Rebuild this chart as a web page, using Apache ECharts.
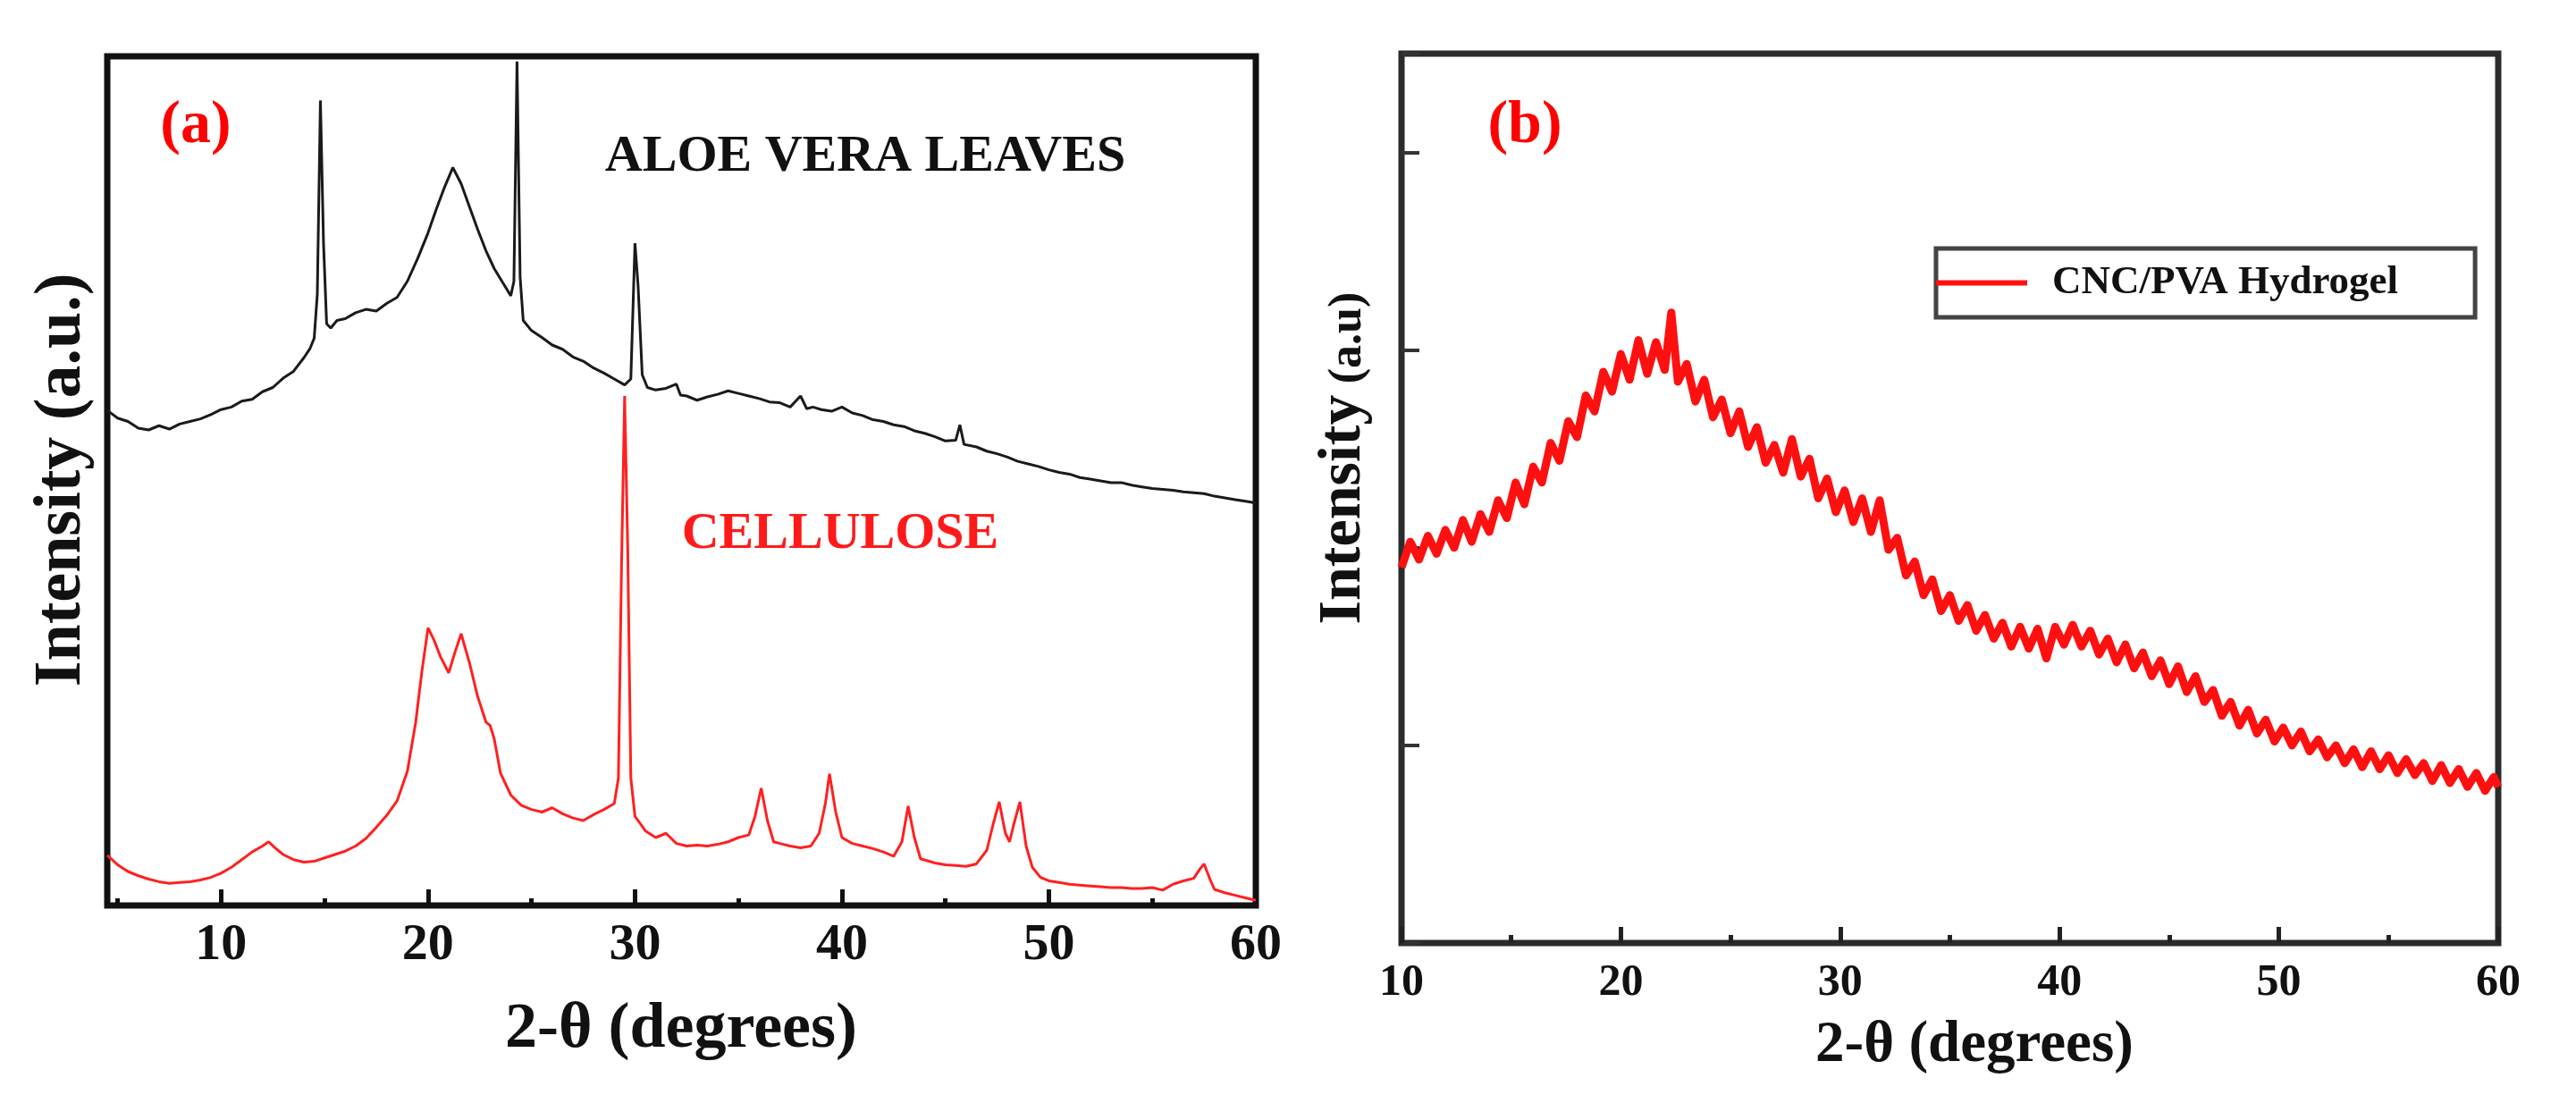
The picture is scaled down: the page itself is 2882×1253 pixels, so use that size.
<!DOCTYPE html>
<html>
<head>
<meta charset="utf-8">
<script src="https://cdn.jsdelivr.net/npm/echarts@6/dist/echarts.min.js"></script>
<style>
html,body{margin:0;padding:0;background:#fff;}
#chart{width:2882px;height:1253px;}
</style>
</head>
<body>
<div id="chart"></div>
<script>
// ---- Panel (a): XRD scans, intensity in arbitrary units (0-100 of plot height) ----
const aloeScan = [[4.5,58.3],[5.0,57.4],[5.5,57.0],[6.0,56.2],[6.5,56.0],[7.0,56.5],[7.5,56.1],[8.0,56.7],[8.5,57.0],[9.0,57.3],[9.5,57.8],[10.0,58.4],[10.5,58.7],[11.0,59.4],[11.5,59.6],[12.0,60.5],[12.5,61.0],[13.0,62.1],[13.5,62.9],[14.0,64.5],[14.3,65.6],[14.5,66.8],[14.65,72],[14.8,94.8],[14.95,78],[15.1,68.5],[15.3,68.0],[15.6,68.9],[16.0,69.1],[16.5,69.8],[17.0,70.2],[17.5,70.0],[18.0,70.9],[18.5,71.6],[19.0,73.5],[19.5,76.2],[20.0,79.2],[20.4,82.0],[20.8,84.6],[21.2,86.9],[21.6,85.0],[22.0,82.3],[22.4,79.6],[22.8,77.1],[23.2,75.0],[23.6,73.4],[24.0,71.8],[24.15,73.5],[24.3,99.4],[24.45,74],[24.6,68.9],[25.0,67.7],[25.5,66.9],[26.0,66.0],[26.5,65.5],[27.0,64.6],[27.5,64.1],[28.0,63.3],[28.5,62.7],[29.0,62.0],[29.5,61.3],[29.8,62.0],[30.0,78.0],[30.15,73.0],[30.35,62.5],[30.6,61.0],[31.0,60.7],[31.5,60.9],[32.0,61.4],[32.2,60.1],[32.5,60.0],[33.0,59.5],[33.5,59.9],[34.0,60.2],[34.5,60.6],[35.0,60.3],[35.5,60.0],[36.0,59.7],[36.5,59.3],[37.0,59.2],[37.5,58.7],[38.0,60.0],[38.3,58.5],[38.6,58.7],[39.0,58.4],[39.5,58.2],[40.0,58.7],[40.5,58.0],[41.0,57.7],[41.5,57.2],[42.0,57.0],[42.5,56.6],[43.0,56.4],[43.5,55.9],[44.0,55.6],[44.5,55.2],[45.0,54.7],[45.5,54.8],[45.7,56.6],[45.9,54.3],[46.5,54.0],[47.0,53.5],[47.5,53.2],[48.0,52.8],[48.5,52.3],[49.0,52.0],[49.5,51.7],[50.0,51.3],[50.5,51.0],[51.0,50.8],[51.5,50.4],[52.0,50.2],[52.5,50.0],[53.0,49.8],[53.5,49.8],[54.0,49.5],[54.5,49.3],[55.0,49.1],[55.5,49.0],[56.0,48.9],[56.5,48.7],[57.0,48.6],[57.5,48.5],[58.0,48.2],[58.5,48.0],[59.0,47.8],[59.5,47.6],[60.0,47.4]];

const celluloseScan = [[4.5,5.9],[5.0,4.8],[5.5,4.0],[6.0,3.5],[6.5,3.1],[7.0,2.8],[7.5,2.6],[8.0,2.7],[8.5,2.8],[9.0,3.0],[9.5,3.3],[10.0,3.8],[10.5,4.5],[11.0,5.4],[11.5,6.3],[12.0,7.0],[12.3,7.5],[12.6,6.8],[13.0,6.0],[13.5,5.4],[14.0,5.1],[14.5,5.2],[15.0,5.6],[15.5,6.0],[16.0,6.4],[16.5,7.0],[17.0,7.9],[17.5,9.2],[18.0,10.6],[18.5,12.3],[19.0,15.8],[19.4,21.5],[19.7,27.5],[20.0,32.7],[20.3,31.2],[20.6,29.3],[21.0,27.4],[21.3,29.8],[21.6,32.0],[22.0,28.6],[22.4,24.6],[22.8,21.6],[23.0,21.2],[23.2,19.6],[23.5,15.6],[24.0,13.0],[24.5,11.8],[25.0,11.3],[25.5,11.0],[26.0,11.5],[26.5,10.8],[27.0,10.3],[27.5,10.0],[28.0,10.7],[28.5,11.3],[29.0,12.0],[29.2,15.0],[29.35,40.0],[29.5,60.0],[29.65,42.0],[29.8,15.0],[30.0,10.5],[30.5,8.8],[31.0,8.0],[31.5,8.5],[32.0,7.3],[32.5,7.0],[33.0,7.1],[33.5,7.0],[34.0,7.2],[34.5,7.5],[35.0,8.0],[35.5,8.3],[35.8,10.5],[36.1,13.8],[36.4,10.0],[36.7,7.5],[37.0,7.3],[37.5,7.0],[38.0,6.8],[38.5,7.0],[38.9,8.5],[39.2,12.0],[39.4,15.5],[39.7,11.0],[40.0,8.0],[40.5,7.3],[41.0,7.0],[41.5,6.7],[42.0,6.3],[42.5,5.8],[42.9,7.5],[43.2,11.7],[43.5,8.0],[43.8,5.5],[44.5,5.0],[45.0,4.8],[45.5,4.7],[46.0,4.6],[46.5,4.9],[47.0,6.5],[47.3,9.5],[47.6,12.2],[47.9,8.5],[48.1,7.5],[48.3,9.5],[48.6,12.2],[48.9,7.0],[49.2,4.5],[49.6,3.3],[50.0,2.9],[50.5,2.7],[51.0,2.5],[51.5,2.4],[52.0,2.3],[52.5,2.2],[53.0,2.1],[53.5,2.1],[54.0,2.0],[54.5,2.0],[55.0,2.1],[55.5,1.8],[56.0,2.5],[56.5,2.9],[57.0,3.2],[57.3,4.3],[57.5,4.9],[57.8,3.0],[58.0,1.9],[58.5,1.5],[59.0,1.2],[59.5,0.9],[60.0,0.6]];

// ---- Panel (b): CNC/PVA hydrogel scan (y axis 0-4.5 tick units) ----
const hydrogelScan = [[10.0,1.90],[10.4,2.03],[10.8,1.94],[11.2,2.06],[11.6,1.97],[12.0,2.09],[12.4,2.00],[12.8,2.14],[13.2,2.03],[13.6,2.17],[14.0,2.08],[14.4,2.24],[14.8,2.15],[15.2,2.33],[15.6,2.22],[16.0,2.41],[16.4,2.33],[16.8,2.53],[17.2,2.44],[17.6,2.64],[18.0,2.56],[18.4,2.77],[18.8,2.69],[19.2,2.89],[19.6,2.79],[20.0,2.98],[20.4,2.85],[20.8,3.05],[21.2,2.88],[21.6,3.04],[22.0,2.90],[22.3,3.19],[22.6,2.84],[23.0,2.93],[23.4,2.74],[23.8,2.85],[24.2,2.66],[24.6,2.75],[25.0,2.58],[25.4,2.69],[25.8,2.51],[26.2,2.61],[26.6,2.43],[27.0,2.52],[27.4,2.38],[27.8,2.55],[28.2,2.36],[28.6,2.45],[29.0,2.25],[29.4,2.35],[29.8,2.18],[30.2,2.29],[30.6,2.13],[31.0,2.25],[31.4,2.08],[31.8,2.24],[32.2,1.99],[32.6,2.05],[33.0,1.86],[33.4,1.93],[33.8,1.76],[34.2,1.84],[34.6,1.68],[35.0,1.76],[35.4,1.63],[35.8,1.71],[36.2,1.58],[36.6,1.66],[37.0,1.54],[37.4,1.62],[37.8,1.50],[38.2,1.60],[38.6,1.49],[39.0,1.59],[39.4,1.44],[39.8,1.60],[40.2,1.51],[40.6,1.61],[41.0,1.50],[41.4,1.58],[41.8,1.46],[42.2,1.54],[42.6,1.42],[43.0,1.51],[43.4,1.39],[43.8,1.47],[44.2,1.35],[44.6,1.43],[45.0,1.31],[45.4,1.40],[45.8,1.27],[46.2,1.35],[46.6,1.22],[47.0,1.28],[47.4,1.15],[47.8,1.22],[48.2,1.10],[48.6,1.18],[49.0,1.06],[49.4,1.13],[49.8,1.02],[50.2,1.09],[50.6,1.00],[51.0,1.07],[51.4,0.97],[51.8,1.03],[52.2,0.94],[52.6,1.00],[53.0,0.91],[53.4,0.98],[53.8,0.89],[54.2,0.97],[54.6,0.88],[55.0,0.95],[55.4,0.86],[55.8,0.93],[56.2,0.85],[56.6,0.91],[57.0,0.82],[57.4,0.90],[57.8,0.81],[58.2,0.88],[58.6,0.79],[59.0,0.86],[59.4,0.77],[59.8,0.84],[60.0,0.79]];

const seriesNames = ['ALOE VERA LEAVES', 'CELLULOSE', 'CNC/PVA Hydrogel'];
const panelLabels = ['(a)', '(b)'];
const xTitle = '2-θ (degrees)';
const yTitleA = 'Intensity (a.u.)';
const yTitleB = ['Intensity', '(a.u)'];

const SERIF = '"Liberation Serif", "DejaVu Serif", serif';
const chart = echarts.init(document.getElementById('chart'), null, {renderer: 'canvas'});

function tickLabel(size, margin) {
  return {
    show: true, margin: margin, color: '#111',
    fontFamily: SERIF, fontWeight: 'bold', fontSize: size,
    formatter: v => (Math.abs(v % 10) < 1e-9 ? String(v) : '')
  };
}

const option = {
  animation: false,
  backgroundColor: '#ffffff',
  grid: [
    {left: 120, top: 63, width: 1285, height: 950, show: true, borderWidth: 7, borderColor: '#111', backgroundColor: 'transparent', containLabel: false},
    {left: 1568, top: 60, width: 1227, height: 995, show: true, borderWidth: 7, borderColor: '#2b2b2b', backgroundColor: 'transparent', containLabel: false}
  ],
  xAxis: [
    {
      gridIndex: 0, type: 'value', min: 4.5, max: 60, minInterval: 10, maxInterval: 10, splitNumber: 5,
      axisLine: {show: false},
      axisTick: {show: true, inside: true, length: 18, lineStyle: {width: 5, color: '#111'}},
      minorTick: {show: true, splitNumber: 2, length: 8, lineStyle: {width: 5, color: '#111'}},
      splitLine: {show: false}, minorSplitLine: {show: false},
      axisLabel: tickLabel(58, 16)
    },
    {
      gridIndex: 1, type: 'value', min: 10, max: 60, interval: 10,
      axisLine: {show: false},
      axisTick: {show: true, inside: true, length: 18, lineStyle: {width: 5, color: '#222'}},
      minorTick: {show: true, splitNumber: 2, length: 9, lineStyle: {width: 5, color: '#222'}},
      splitLine: {show: false}, minorSplitLine: {show: false},
      axisLabel: tickLabel(50, 20)
    }
  ],
  yAxis: [
    {
      gridIndex: 0, type: 'value', min: 0, max: 100,
      axisLine: {show: false}, axisTick: {show: false}, axisLabel: {show: false}, splitLine: {show: false}
    },
    {
      gridIndex: 1, type: 'value', min: 0, max: 4.5, interval: 1,
      axisLine: {show: false},
      axisTick: {show: true, inside: true, length: 20, lineStyle: {width: 4, color: '#333'}},
      axisLabel: {show: false}, splitLine: {show: false}
    }
  ],
  legend: {
    data: [seriesNames[2]],
    left: 2166, top: 278,
    orient: 'horizontal',
    icon: 'rect', itemWidth: 102, itemHeight: 6,
    padding: [16, 86, 16, 0],
    borderColor: '#444', borderWidth: 5,
    backgroundColor: '#fff',
    selectedMode: false,
    formatter: name => '{g|}{t|' + name + '}',
    textStyle: {
      color: '#111',
      rich: {
        g: {width: 23},
        t: {fontFamily: SERIF, fontWeight: 'bold', fontSize: 45, lineHeight: 47, color: '#111'}
      }
    }
  },
  series: [
    {
      name: seriesNames[0], type: 'line', xAxisIndex: 0, yAxisIndex: 0,
      data: aloeScan, showSymbol: false, symbol: 'none', smooth: false,
      lineStyle: {color: '#1a1a1a', width: 3}, z: 3
    },
    {
      name: seriesNames[1], type: 'line', xAxisIndex: 0, yAxisIndex: 0,
      data: celluloseScan, showSymbol: false, symbol: 'none', smooth: false,
      lineStyle: {color: '#ff2020', width: 3}, z: 3
    },
    {
      name: seriesNames[2], type: 'line', xAxisIndex: 1, yAxisIndex: 1,
      data: hydrogelScan, showSymbol: false, symbol: 'none', smooth: false,
      itemStyle: {color: '#ff1010'},
      lineStyle: {color: '#ff1010', width: 9, join: 'round'}, z: 3
    }
  ],
  graphic: [
    {type: 'text', x: 219, y: 141, style: {text: panelLabels[0], font: 'bold 68px ' + SERIF, fill: '#ff0000', align: 'center', verticalAlign: 'middle'}},
    {type: 'text', x: 1706, y: 141, style: {text: panelLabels[1], font: 'bold 68px ' + SERIF, fill: '#ff0000', align: 'center', verticalAlign: 'middle'}},
    {type: 'text', x: 968, y: 176, style: {text: seriesNames[0], font: 'bold 58px ' + SERIF, fill: '#111', align: 'center', verticalAlign: 'middle'}},
    {type: 'text', x: 940, y: 598, style: {text: seriesNames[1], font: 'bold 58px ' + SERIF, fill: '#ff1a1a', align: 'center', verticalAlign: 'middle'}},
    {type: 'text', x: 762, y: 1152, style: {text: xTitle, font: 'bold 72px ' + SERIF, fill: '#111', align: 'center', verticalAlign: 'middle'}},
    {type: 'text', x: 70, y: 537, rotation: Math.PI / 2, style: {text: yTitleA, font: 'bold 74px ' + SERIF, fill: '#111', align: 'center', verticalAlign: 'middle'}},
    {type: 'text', x: 2209, y: 1170, style: {text: xTitle, font: 'bold 65px ' + SERIF, fill: '#111', align: 'center', verticalAlign: 'middle'}},
    {type: 'text', x: 1503, y: 570, rotation: Math.PI / 2, style: {text: yTitleB[0], font: 'bold 68px ' + SERIF, fill: '#111', align: 'center', verticalAlign: 'middle'}},
    {type: 'text', x: 1509, y: 378, rotation: Math.PI / 2, style: {text: yTitleB[1], font: 'bold 52px ' + SERIF, fill: '#111', align: 'center', verticalAlign: 'middle'}}
  ]
};
chart.setOption(option);
</script>
</body>
</html>
